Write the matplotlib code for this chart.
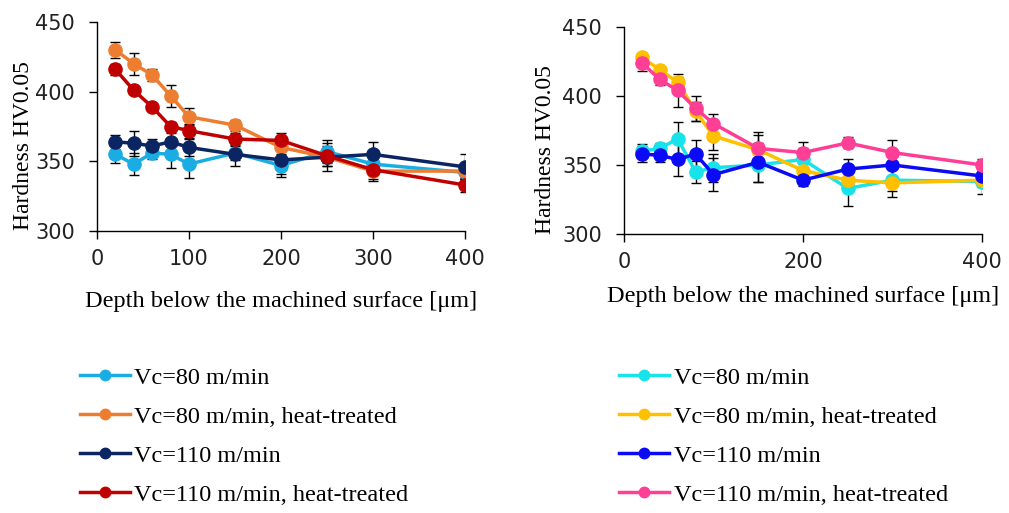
import numpy as np
import matplotlib
matplotlib.use('Agg')
from matplotlib import pyplot as plt

depth = [20, 40, 60, 80, 100, 150, 200, 250, 300, 400]

labels = ['Vc=80 m/min', 'Vc=80 m/min, heat-treated',
          'Vc=110 m/min', 'Vc=110 m/min, heat-treated']

# left panel
left_vc80 = [355, 348, 356, 355, 348, 356, 347, 357, 348, 342]
left_vc80_err = [6, 8, 4, 10, 10, 5, 8, 8, 6, 5]
left_vc80_ht = [430, 420, 412, 397, 382, 376, 360, 353, 343, 343]
left_vc80_ht_err = [6, 8, 4, 8, 6, 4, 6, 6, 6, 6]
left_vc110 = [364, 363, 361, 364, 360, 355, 351, 353, 355, 346]
left_vc110_err = [5, 9, 5, 6, 6, 8, 10, 10, 9, 9]
left_vc110_ht = [416, 401, 389, 375, 372, 366, 365, 354, 344, 333]
left_vc110_ht_err = [4, 3, 3, 3, 5, 4, 5, 7, 8, 5]

# right panel
right_vc80 = [360, 362, 369, 345, 348, 350, 354, 333, 339, 338]
right_vc80_err = [5, 4, 12, 8, 10, 12, 8, 13, 8, 9]
right_vc80_ht = [428, 419, 410, 389, 371, 361, 346, 339, 337, 339]
right_vc80_ht_err = [3, 3, 4, 7, 10, 11, 6, 8, 10, 5]
right_vc110 = [358, 357, 354, 358, 343, 352, 339, 347, 350, 342]
right_vc110_err = [6, 5, 12, 10, 12, 14, 4, 7, 8, 5]
right_vc110_ht = [424, 412, 404, 391, 380, 362, 359, 366, 359, 350]
right_vc110_ht_err = [6, 4, 12, 9, 7, 12, 8, 4, 9, 4]

left_colors = ['#1AADE4', '#ED7D31', '#0B2562', '#C00000']
right_colors = ['#19E3EA', '#FFC000', '#0A0AF5', '#FF3E96']

plt.rcParams['font.family'] = ['Liberation Serif', 'DejaVu Serif']

fig = plt.figure(figsize=(10.09, 5.13), dpi=100)
ax1 = fig.add_axes([0.0961, 0.5497, 0.3648, 0.4074])
ax2 = fig.add_axes([0.6184, 0.5439, 0.3548, 0.4035])

left_data = [(left_vc80, left_vc80_err), (left_vc80_ht, left_vc80_ht_err),
             (left_vc110, left_vc110_err), (left_vc110_ht, left_vc110_ht_err)]
right_data = [(right_vc80, right_vc80_err), (right_vc80_ht, right_vc80_ht_err),
              (right_vc110, right_vc110_err), (right_vc110_ht, right_vc110_ht_err)]


def draw(ax, data, colors, xticks, xlab_y, ylab_x, ylab_y):
    for (vals, err), c, lab in zip(data, colors, labels):
        ax.errorbar(depth, vals, yerr=err, fmt='none', ecolor='black',
                    elinewidth=1, capsize=3.5, capthick=1, zorder=1)
        ax.plot(depth, vals, color=c, lw=2.5, marker='o',
                markersize=9.5, label=lab, zorder=2)
    ax.set_xlim(0, 400)
    ax.set_ylim(300, 450)
    ax.set_xticks(xticks)
    ax.set_yticks([300, 350, 400, 450])
    for s in ['top', 'right']:
        ax.spines[s].set_visible(False)
    ax.spines['left'].set_linewidth(1)
    ax.spines['bottom'].set_linewidth(1)
    ax.tick_params(direction='out', length=6, width=1, labelsize=15)
    ax.tick_params(axis='x', pad=7)
    ax.tick_params(axis='y', pad=10)
    for t in ax.get_xticklabels() + ax.get_yticklabels():
        t.set_family(['DejaVu Sans'])
        t.set_color('#222222')
    ax.set_xlabel('Depth below the machined surface [\u03bcm]', fontsize=17.5)
    ax.set_ylabel('Hardness HV0.05', fontsize=17)
    ax.xaxis.set_label_coords(0.5, xlab_y)
    ax.yaxis.set_label_coords(ylab_x, ylab_y)


draw(ax1, left_data, left_colors, [0, 100, 200, 300, 400], -0.289, -0.171, 0.41)
draw(ax2, right_data, right_colors, [0, 200, 400], -0.25, -0.191, 0.41)


def legend_handles(colors):
    return [plt.Line2D([], [], color=c, lw=2.5, marker='o', markersize=7.5)
            for c in colors]


leg_kw = dict(frameon=False, fontsize=17.5, handlelength=2.05,
              handletextpad=0.2, labelspacing=0.7, loc='upper left',
              borderaxespad=0, borderpad=0)
fig.legend(legend_handles(left_colors), labels,
           bbox_to_anchor=(0.079, 0.285), **leg_kw)
fig.legend(legend_handles(right_colors), labels,
           bbox_to_anchor=(0.6135, 0.285), **leg_kw)

fig.savefig('out.png', dpi=100)
